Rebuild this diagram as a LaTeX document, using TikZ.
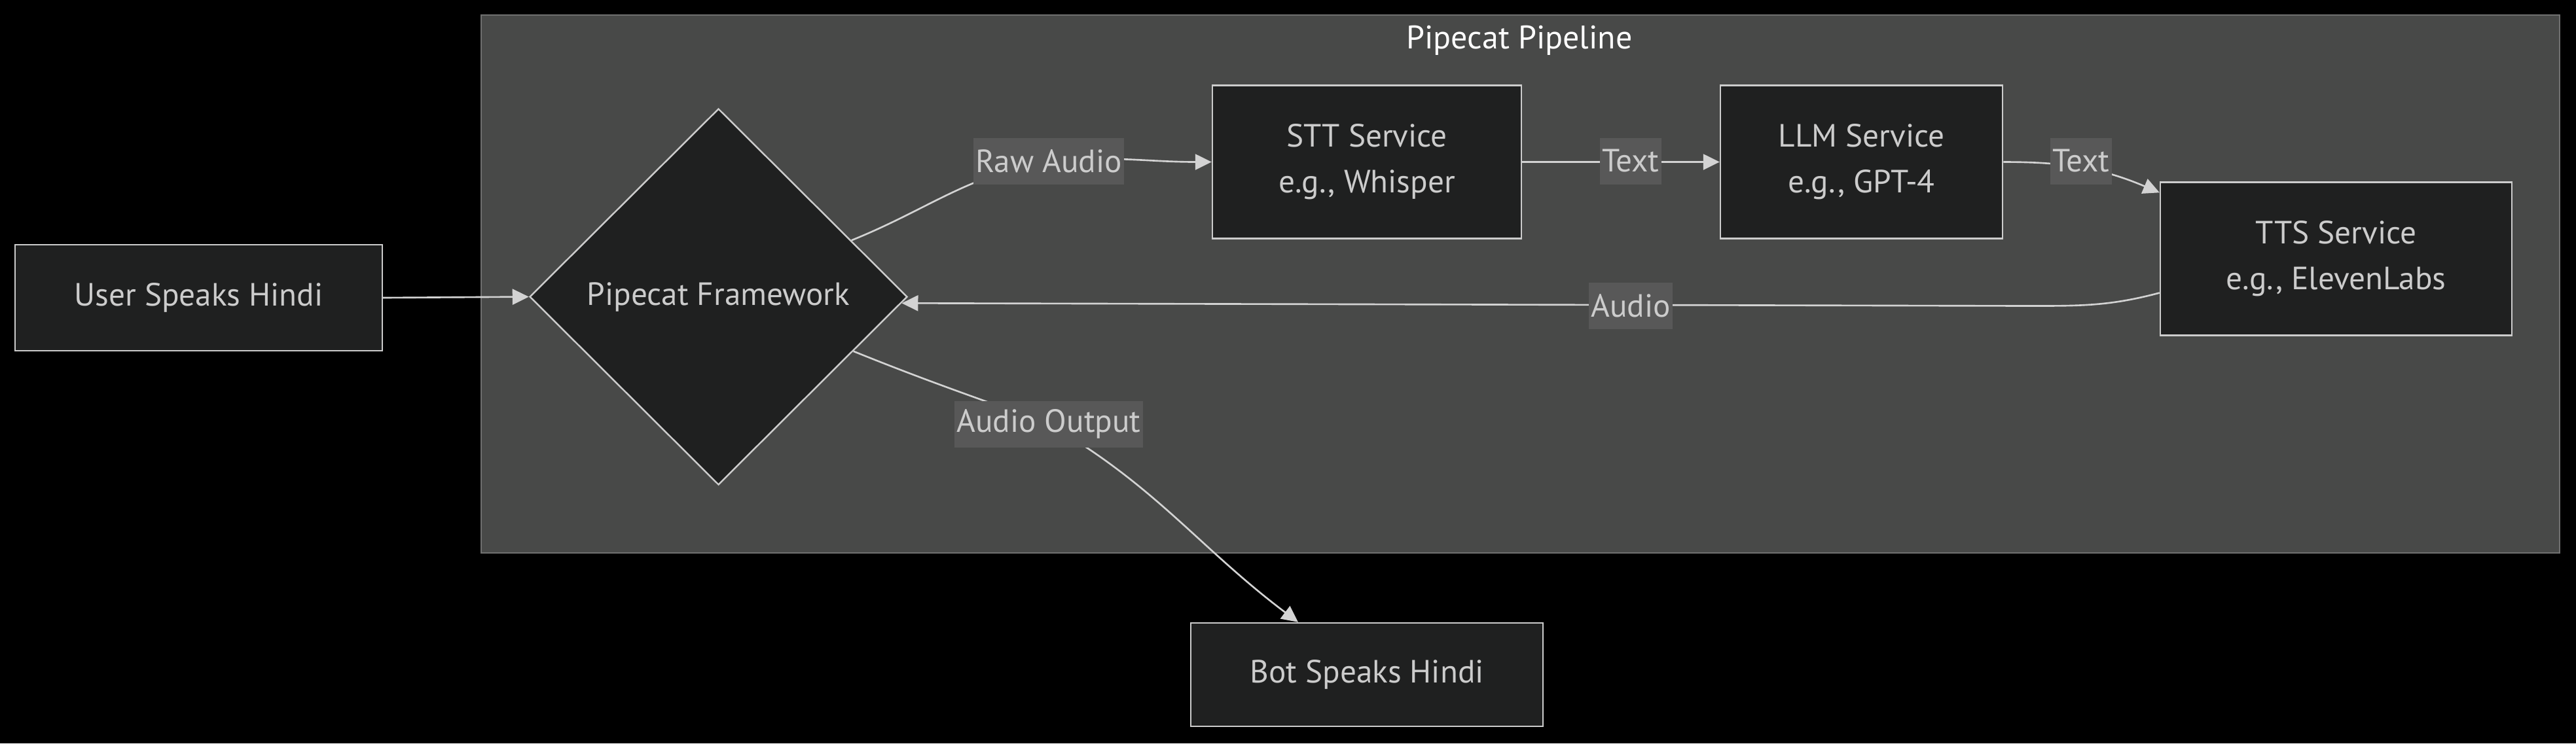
\documentclass[tikz,border=0pt]{standalone}
\usepackage{fontspec}
\setmainfont{PT Sans}
\usetikzlibrary{shapes.geometric,arrows.meta}
\definecolor{clfill}{HTML}{484948}
\definecolor{clline}{HTML}{707070}
\definecolor{nfill}{HTML}{1F2020}
\definecolor{nline}{HTML}{CCCCCC}
\definecolor{ntext}{HTML}{CCCCCC}
\definecolor{lfill}{HTML}{585858}
\definecolor{eline}{HTML}{D3D3D3}
\tikzset{
  box/.style={draw=nline,fill=nfill,line width=0.7pt,text=ntext,align=center,inner sep=0pt,
    font=\fontsize{14}{19.9}\selectfont},
  lbl/.style={fill=lfill,text=ntext,inner sep=1pt,minimum height=0.71cm,
    font=\fontsize{14}{16}\selectfont},
  edge/.style={draw=eline,line width=0.75pt},
  arr/.style={-{Triangle[length=0.25cm,width=0.24cm]}},
}
\begin{document}
\begin{tikzpicture}
\useasboundingbox (0,0) rectangle (39.35,-11.36);
\fill[black] (0,0) rectangle (39.35,-11.36);
% cluster
\node[draw=clline,fill=clfill,line width=0.7pt,minimum width=31.75cm,minimum height=8.22cm,inner sep=0pt] (pipe) at (23.225,-4.34) {};
\node[text=white,font=\fontsize{14.2}{16}\selectfont] (ptitle) at (23.21,-0.62) {Pipecat Pipeline};
% nodes
\node[box,minimum width=5.61cm,minimum height=1.62cm] (user) at (3.035,-4.55) {User Speaks Hindi};
\node[box,shape=diamond,aspect=1,minimum width=5.77cm,minimum height=5.75cm] (dia) at (10.975,-4.535) {Pipecat Framework};
\node[box,minimum width=4.72cm,minimum height=2.34cm] (stt) at (20.88,-2.475) {STT Service\\e.g., Whisper};
\node[box,minimum width=4.31cm,minimum height=2.34cm] (llm) at (28.435,-2.475) {LLM Service\\e.g., GPT-4};
\node[box,minimum width=5.37cm,minimum height=2.34cm] (tts) at (35.685,-3.955) {TTS Service\\e.g., ElevenLabs};
\node[box,minimum width=5.38cm,minimum height=1.58cm] (bot) at (20.88,-10.31) {Bot Speaks Hindi};
% label positions
\coordinate (praw) at (16.02,-2.46);
\coordinate (ptext1) at (24.91,-2.46);
\coordinate (ptext2) at (31.79,-2.46);
\coordinate (paudio) at (24.91,-4.675);
\coordinate (pout) at (16.02,-6.48);
\coordinate (aud1) at (31.0,-4.675);
% edges
\draw[edge,arr] (user.east) -- (dia.west);
\draw[edge,arr] (dia.23) to[out=22,in=190] (praw) to[out=5,in=180] (stt.west);
\draw[edge,arr] (stt.east) -- (llm.west);
\draw[edge,arr] (llm.east) to[out=0,in=157] ([yshift=-0.17cm]tts.north west);
\draw[edge,arr] ([yshift=-0.52cm]tts.west) to[out=195,in=0] (aud1) -- (dia.-2);
\draw[edge,arr] (dia.-22) to[out=-22,in=160] (pout) to[out=-30,in=143] ([xshift=-1.05cm]bot.north);
% labels
\node[lbl] (lraw) at (praw) {Raw Audio};
\node[lbl] (ltext1) at (ptext1) {Text};
\node[lbl] (ltext2) at (ptext2) {Text};
\node[lbl] (laudio) at (paudio) {Audio};
\node[lbl] (lout) at (pout) {Audio Output};
\end{tikzpicture}
\end{document}
